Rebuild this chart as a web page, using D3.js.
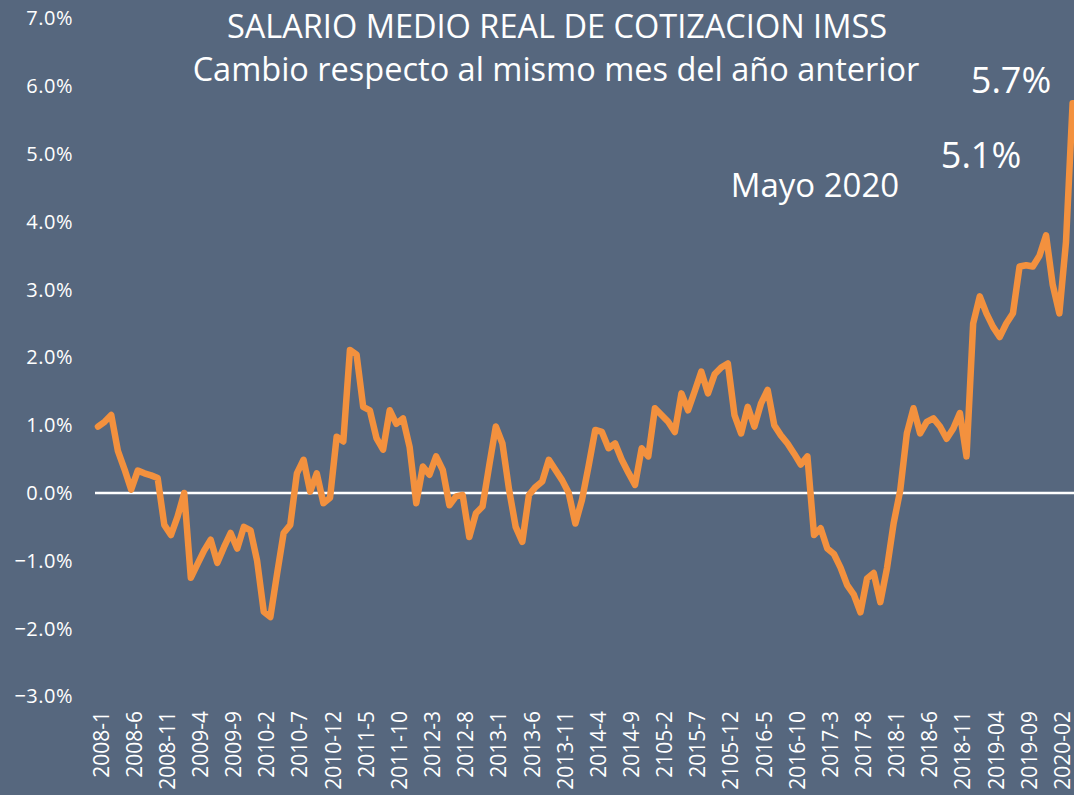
<!DOCTYPE html>
<html>
<head>
<meta charset="utf-8">
<script src="https://cdn.jsdelivr.net/npm/d3@7"></script>
<style>
  html, body { margin: 0; padding: 0; background: #56677E; }
  svg { display: block; }
  text { font-family: "Open Sans", "Noto Sans", sans-serif; fill: #FFFFFF; }
</style>
</head>
<body>
<svg id="chart" width="1074" height="795"></svg>
<script>
// ---- data ----
const titleLine1 = "SALARIO MEDIO REAL DE COTIZACION IMSS";
const titleLine2 = "Cambio respecto al mismo mes del año anterior";

// monthly categories 2008-1 ... (148 months)
const startYear = 2008;
const monthCount = 148;

// real average wage, % change vs same month previous year
const values = [
  0.98, 1.05, 1.15, 0.62, 0.35, 0.05, 0.33, 0.29, 0.26, 0.22,
  -0.47, -0.62, -0.35, 0.0, -1.25, -1.05, -0.85, -0.69, -1.03, -0.8,
  -0.59, -0.82, -0.5, -0.55, -1.0, -1.75, -1.83, -1.2, -0.59, -0.47,
  0.29, 0.49, 0.02, 0.29, -0.15, -0.07, 0.83, 0.76, 2.11, 2.04,
  1.27, 1.22, 0.81, 0.64, 1.22, 1.02, 1.1, 0.68, -0.15, 0.39,
  0.27, 0.54, 0.34, -0.18, -0.05, -0.03, -0.65, -0.3, -0.2, 0.4,
  0.98, 0.73, 0.05, -0.5, -0.72, -0.03, 0.09, 0.17, 0.49, 0.34,
  0.19, 0.0, -0.45, -0.1, 0.4, 0.93, 0.9, 0.66, 0.73, 0.49,
  0.3, 0.12, 0.66, 0.54, 1.25, 1.15, 1.05, 0.9, 1.47, 1.22,
  1.5, 1.79, 1.47, 1.75, 1.85, 1.91, 1.15, 0.88, 1.27, 0.98,
  1.32, 1.52, 1.0, 0.85, 0.73, 0.58, 0.42, 0.54, -0.62, -0.52,
  -0.82, -0.9, -1.1, -1.36, -1.5, -1.76, -1.26, -1.18, -1.61, -1.11,
  -0.45, 0.04, 0.88, 1.25, 0.88, 1.05, 1.1, 0.98, 0.8, 0.95,
  1.18, 0.54, 2.5, 2.9, 2.65, 2.45, 2.3, 2.5, 2.65, 3.34,
  3.36, 3.34, 3.5, 3.8, 3.07, 2.65, 3.7, 5.75
];

// x-axis tick labels (every 5th month, as printed in the original)
const tickLabels = [
  "2008-1", "2008-6", "2008-11", "2009-4", "2009-9", "2010-2", "2010-7", "2010-12",
  "2011-5", "2011-10", "2012-3", "2012-8", "2013-1", "2013-6", "2013-11", "2014-4",
  "2014-9", "2105-2", "2015-7", "2105-12", "2016-5", "2016-10", "2017-3", "2017-8",
  "2018-1", "2018-6", "2018-11", "2019-04", "2019-09", "2020-02"
];
const tickEvery = 5;

const yTicks = [-3, -2, -1, 0, 1, 2, 3, 4, 5, 6, 7];

const annotations = [
  { text: "5.7%", x: 1011, y: 93, size: 36 },
  { text: "5.1%", x: 981, y: 168, size: 36 },
  { text: "Mayo 2020", x: 815, y: 197, size: 33 }
];

// ---- build ----
const categories = d3.range(monthCount).map(i => {
  const y = startYear + Math.floor(i / 12);
  const m = (i % 12) + 1;
  return y + "-" + m;
});
const series = categories.map((c, i) => ({ cat: c, v: values[i] }));

const svg = d3.select("#chart");

const x = d3.scalePoint()
  .domain(categories)
  .range([98, 98 + (monthCount - 1) * 6.63]);

const y = d3.scaleLinear()
  .domain([-3, 7])
  .range([696.4, 18.4]);

// y labels
svg.append("g")
  .selectAll("text")
  .data(yTicks)
  .join("text")
  .attr("x", 73)
  .attr("y", d => y(d))
  .attr("dy", "0.35em")
  .attr("text-anchor", "end")
  .style("font-size", "20px")
  .style("letter-spacing", "0.5px")
  .text(d => d3.format(".1f")(d) + "%");

// zero line
svg.append("line")
  .attr("x1", 95)
  .attr("x2", 1074)
  .attr("y1", y(0))
  .attr("y2", y(0))
  .attr("stroke", "#FFFFFF")
  .attr("stroke-width", 2.5);

// x labels
svg.append("g")
  .selectAll("text")
  .data(tickLabels)
  .join("text")
  .attr("transform", (d, i) => `translate(${x(categories[i * tickEvery]) + 3.2},711) rotate(-90)`)
  .attr("dy", "0.35em")
  .attr("text-anchor", "end")
  .style("font-size", "21px")
  .text(d => d);

// line
const line = d3.line()
  .x(d => x(d.cat))
  .y(d => y(d.v));

svg.append("path")
  .datum(series)
  .attr("d", line)
  .attr("fill", "none")
  .attr("stroke", "#F3913E")
  .attr("stroke-width", 6.5)
  .attr("stroke-linejoin", "round")
  .attr("stroke-linecap", "round");

// titles
svg.append("text")
  .attr("x", 557)
  .attr("y", 38)
  .attr("text-anchor", "middle")
  .style("font-size", "32.5px")
  .text(titleLine1);

svg.append("text")
  .attr("x", 556)
  .attr("y", 81)
  .attr("text-anchor", "middle")
  .style("font-size", "32.5px")
  .text(titleLine2);

// annotations
svg.append("g")
  .selectAll("text")
  .data(annotations)
  .join("text")
  .attr("x", d => d.x)
  .attr("y", d => d.y)
  .attr("text-anchor", "middle")
  .style("font-size", d => d.size + "px")
  .text(d => d.text);
</script>
</body>
</html>
